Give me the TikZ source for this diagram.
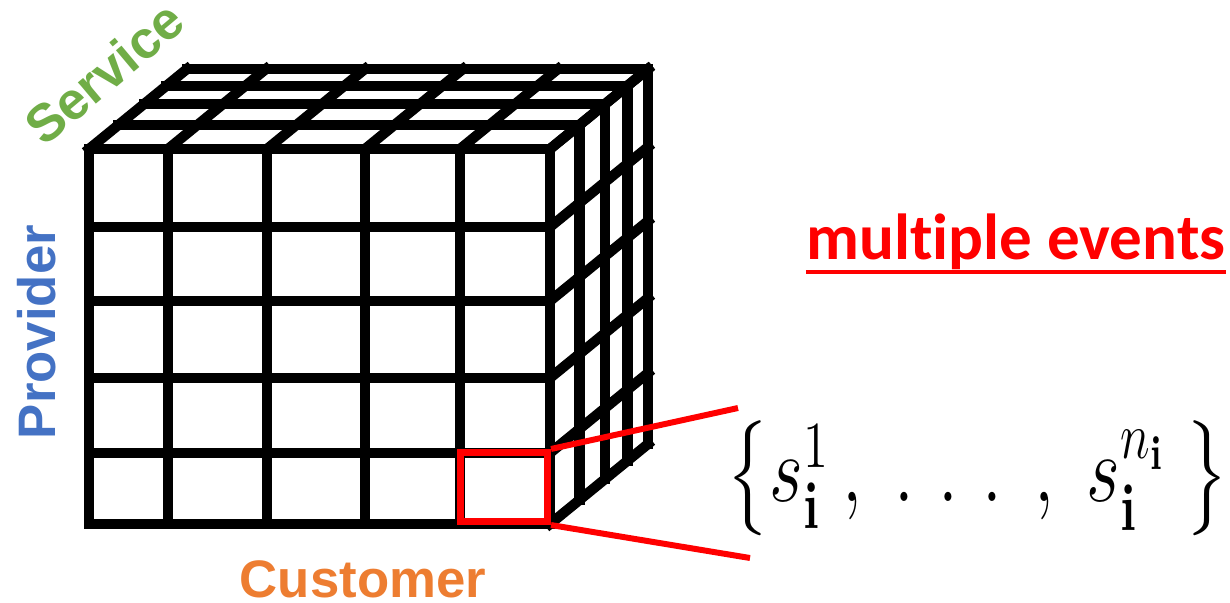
\documentclass[tikz,border=0pt]{standalone}
\usepackage{amsmath,amssymb}
\usepackage{xcolor}
\usepackage[no-math]{fontspec}
\setmainfont{Liberation Sans}
\newfontfamily\calfont[Ligatures=NoCommon]{Carlito}
\newfontfamily\lmfont{Latin Modern Roman}
\newcommand{\bfi}{\text{\lmfont\bfseries i}}
\usepackage{tikz}
\usetikzlibrary{calc}

\definecolor{custorange}{HTML}{ED7D31}
\definecolor{provblue}{HTML}{4472C4}
\definecolor{servgreen}{HTML}{70AD47}

\begin{document}
\begin{tikzpicture}[x=0.01cm,y=-0.01cm,
		cubeline/.style={line width=2.9pt,line cap=rect},
		axislabel/.style={font=\fontsize{15}{18}\selectfont\bfseries,inner sep=0pt},
		cellbox/.style={draw=red,line width=2pt,minimum width=0.87cm,minimum height=0.69cm,inner sep=0pt},
		zoomline/.style={red,line width=1.7pt}]
		\useasboundingbox (0,0) rectangle (1230,603);

		% top face
		\foreach \f in {0.3,0.56,0.79,1}
			\draw[cubeline] ($(89,149)+\f*(98,-80)$) -- ($(550,149)+\f*(98,-80)$);
		\foreach \x in {89,168,267,365,460,550}
			\draw[cubeline] (\x,149) -- ++(98,-80);

		% right face
		\foreach \f in {0.3,0.56,0.79,1}
			\draw[cubeline] ($(550,149)+\f*(98,-80)$) -- ($(550,524)+\f*(98,-80)$);
		\foreach \y in {149,227,301,378,453,524}
			\draw[cubeline] (550,\y) -- ++(98,-80);

		% front face
		\foreach \x in {89,168,267,365,460,550}
			\draw[cubeline] (\x,149) -- (\x,524);
		\foreach \y in {149,227,301,378,453,524}
			\draw[cubeline] (89,\y) -- (550,\y);

		% axis names
		\node[axislabel,text=servgreen,rotate=40] (service) at (104,73) {Service};
		\node[axislabel,text=provblue,rotate=90,anchor=base] (provider) at (55,332) {Provider};
		\node[axislabel,text=custorange,anchor=base] (customer) at (363,597) {Customer};

		% one cell and its events
		\node[cellbox] (cell) at (504,487) {};
		\node[inner sep=0pt,anchor=west] (events) at (726,478)
			{\scalebox{1}[1.3]{\fontsize{21}{25}\selectfont$\left\{s_{\bfi}^{1}\,,\;\ldotp\,\ldotp\,\ldotp\;,\;s_{\bfi}^{n_{\bfi}}\;\right\}$}};
		\coordinate (upend) at (738,408);
		\coordinate (lowend) at (750,558);
		\draw[zoomline] (cell.north east) -- (upend);
		\draw[zoomline] (cell.south east) -- (lowend);

		\node[font=\calfont\fontsize{18.5}{22}\selectfont\bfseries,text=red,anchor=base,inner sep=0pt] (multi) at (1016,259) {multiple events};
		\draw[red,line width=1.4pt] ($(multi.base west)+(0,13)$) -- ($(multi.base east)+(0,13)$);
	\end{tikzpicture}
\end{document}
